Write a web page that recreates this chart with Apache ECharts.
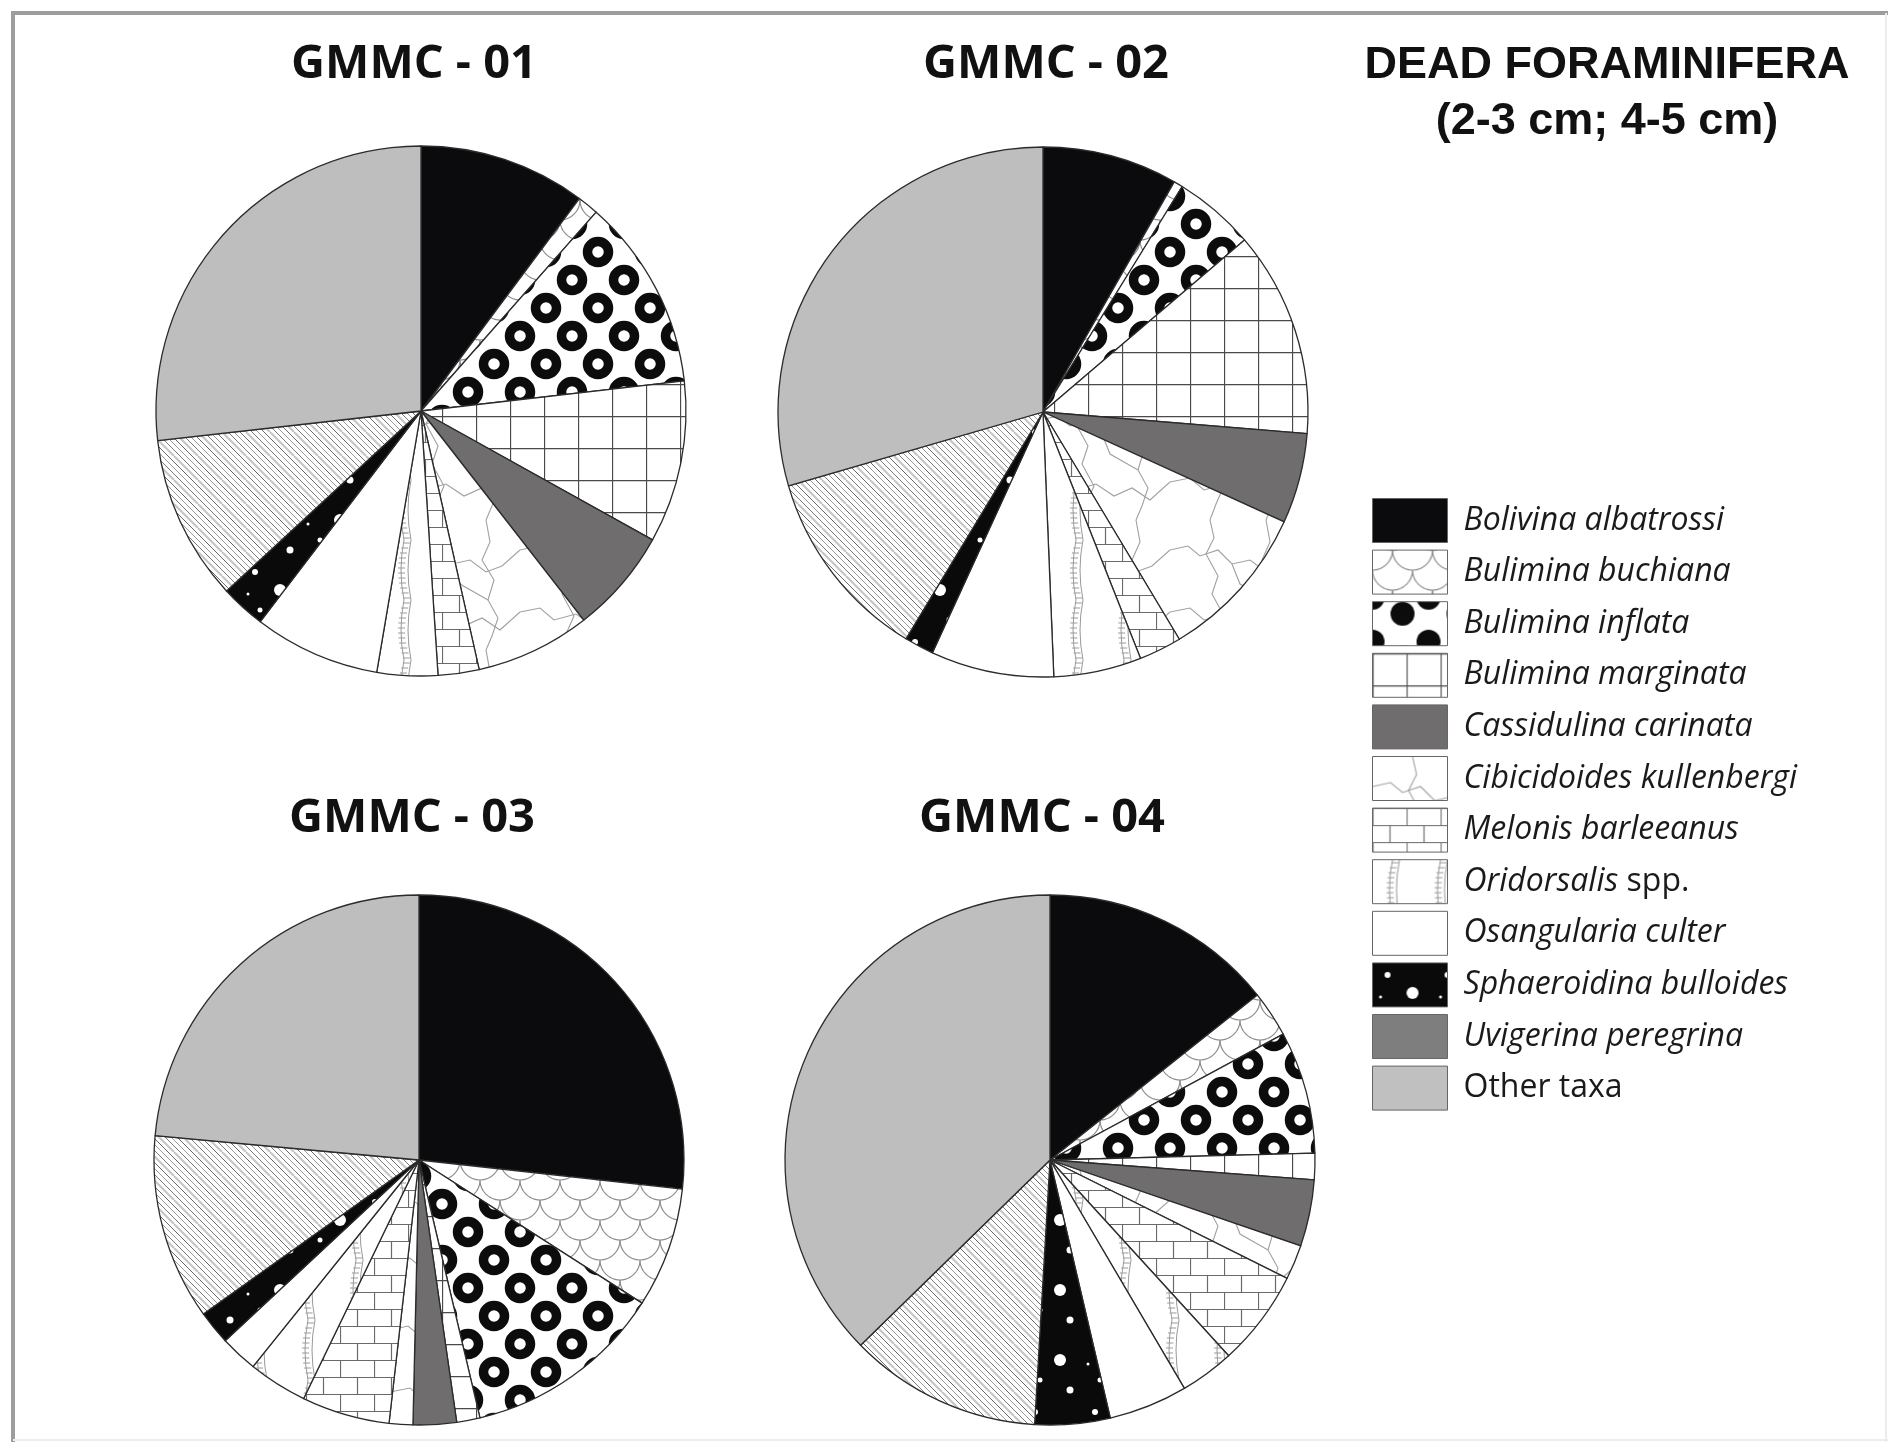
<!DOCTYPE html>
<html>
<head>
<meta charset="utf-8">
<title>Dead foraminifera</title>
<style>
html,body{margin:0;padding:0;background:#fff;}
#main{width:1888px;height:1442px;}
</style>
</head>
<body>
<div id="main"></div>
<script src="https://cdn.jsdelivr.net/npm/echarts@6/dist/echarts.min.js"></script>
<script type="text/javascript">

// taxa in the order they are drawn (clockwise from 12 o'clock)
var taxa = ['Bolivina albatrossi', 'Bulimina buchiana', 'Bulimina inflata', 'Bulimina marginata',
    'Cassidulina carinata', 'Cibicidoides kullenbergi', 'Melonis barleeanus', 'Oridorsalis spp.',
    'Osangularia culter', 'Sphaeroidina bulloides', 'Uvigerina peregrina', 'Other taxa'];

// relative abundance (%) per core
var gmmc01 = [10.2, 1.3, 11.7, 9.9, 6.4, 7.0, 2.5, 3.7, 7.7, 2.75, 10.1, 26.8];
var gmmc02 = [8.25, 0.55, 4.95, 12.55, 5.5, 9.6, 2.6, 5.35, 7.5, 1.8, 11.85, 29.5];
var gmmc03 = [26.75, 7.33, 12.22, 1.42, 2.64, 1.44, 5.36, 3.61, 2.28, 2.08, 11.33, 23.53];
var gmmc04 = [14.31, 2.81, 7.47, 1.61, 4.06, 2.11, 5.86, 3.31, 4.81, 4.58, 11.75, 37.33];

var cores = ['GMMC - 01', 'GMMC - 02', 'GMMC - 03', 'GMMC - 04'];
var coreData = [gmmc01, gmmc02, gmmc03, gmmc04];

// layout
var centers = [[421, 411], [1043, 412], [419, 1160], [1050, 1160]];
var titlePos = [[414, 41], [1046, 41], [412, 795], [1042, 795]];
var pieRadius = 265;

// ---------- fill patterns ----------
function tile(w, h, bg, draw) {
    var c = document.createElement('canvas');
    c.width = w; c.height = h;
    var ctx = c.getContext('2d');
    ctx.fillStyle = bg;
    ctx.fillRect(0, 0, w, h);
    if (draw) draw(ctx, w, h);
    return { image: c, repeat: 'repeat' };
}

var scallop = tile(40, 40, '#ffffff', function (ctx, w, h) {
    ctx.strokeStyle = '#8c8c8c'; ctx.lineWidth = 1.2;
    [[0, 0], [40, 0], [20, 20], [0, 40], [40, 40], [20, -20]].forEach(function (p) {
        ctx.beginPath(); ctx.arc(p[0], p[1], 20, 0, Math.PI); ctx.stroke();
    });
});

var rings = tile(52, 56, '#ffffff', function (ctx) {
    ctx.strokeStyle = '#0c0c0c'; ctx.lineWidth = 9.5;
    [[0, 0], [52, 0], [0, 56], [52, 56], [26, 28]].forEach(function (p) {
        ctx.beginPath(); ctx.arc(p[0], p[1], 10.5, 0, Math.PI * 2); ctx.stroke();
    });
});

var dots = tile(56, 44, '#ffffff', function (ctx) {
    ctx.fillStyle = '#0c0c0c';
    [[30, 12, 12], [0, 40, 12], [56, 40, 12], [0, -4, 12], [56, -4, 12], [30, 56, 12]].forEach(function (p) {
        ctx.beginPath(); ctx.arc(p[0], p[1], p[2], 0, Math.PI * 2); ctx.fill();
    });
});

var grid = tile(34, 32, '#ffffff', function (ctx, w, h) {
    ctx.strokeStyle = '#4a4a4a'; ctx.lineWidth = 1.3;
    ctx.beginPath();
    ctx.moveTo(0.5, 0); ctx.lineTo(0.5, h);
    ctx.moveTo(0, 0.5); ctx.lineTo(w, 0.5);
    ctx.stroke();
});

var bricks = tile(34, 34, '#ffffff', function (ctx) {
    ctx.strokeStyle = '#6a6a6a'; ctx.lineWidth = 1.2;
    ctx.beginPath();
    ctx.moveTo(0, 0.5); ctx.lineTo(34, 0.5);
    ctx.moveTo(0, 17.5); ctx.lineTo(34, 17.5);
    ctx.moveTo(0.5, 0); ctx.lineTo(0.5, 17);
    ctx.moveTo(17.5, 17); ctx.lineTo(17.5, 34);
    ctx.stroke();
});

var cracks = tile(130, 130, '#ffffff', function (ctx) {
    ctx.strokeStyle = '#a0a0a0'; ctx.lineWidth = 1.1;
    var lines = [
        [[0, 30], [18, 26], [30, 36], [48, 30], [62, 44], [80, 40], [96, 52], [112, 46], [130, 30]],
        [[40, 0], [44, 18], [36, 34], [48, 56], [42, 74], [54, 96], [46, 114], [40, 130]],
        [[0, 92], [20, 88], [34, 100], [56, 94], [74, 106], [92, 98], [110, 110], [130, 92]],
        [[96, 0], [100, 22], [92, 40], [104, 60], [98, 80], [108, 98], [102, 116], [96, 130]],
        [[62, 44], [70, 64], [84, 72], [98, 80]]
    ];
    lines.forEach(function (l) {
        ctx.beginPath();
        ctx.moveTo(l[0][0], l[0][1]);
        for (var i = 1; i < l.length; i++) ctx.lineTo(l[i][0], l[i][1]);
        ctx.stroke();
    });
});

var ladder = tile(48, 60, '#ffffff', function (ctx) {
    ctx.strokeStyle = '#9a9a9a'; ctx.lineWidth = 1;
    ctx.beginPath();
    ctx.moveTo(20, 0); ctx.quadraticCurveTo(14, 30, 20, 60);
    ctx.moveTo(27, 0); ctx.quadraticCurveTo(21, 30, 27, 60);
    for (var y = 3; y < 60; y += 5) {
        var dx = -6 * (1 - Math.pow((y - 30) / 30, 2));
        ctx.moveTo(20 + dx, y); ctx.lineTo(27 + dx, y);
    }
    ctx.stroke();
});

var speckled = tile(60, 70, '#0a0a0a', function (ctx) {
    ctx.fillStyle = '#ffffff';
    [[15, 12, 3], [40, 30, 6], [20, 50, 2.5], [50, 60, 3.5], [8, 34, 1.5]].forEach(function (p) {
        ctx.beginPath(); ctx.arc(p[0], p[1], p[2], 0, Math.PI * 2); ctx.fill();
    });
});

var hatch = tile(24, 24, '#ffffff', function (ctx) {
    var styles = [['#6a6a6a', 1], ['#c6c6c6', 2.2], ['#7a7a7a', 1], ['#9a9a9a', 1]];
    for (var k = -24; k <= 24; k += 6) {
        var s = styles[((k / 6) % 4 + 4) % 4];
        ctx.strokeStyle = s[0]; ctx.lineWidth = s[1];
        ctx.beginPath(); ctx.moveTo(k, 0); ctx.lineTo(k + 24, 24); ctx.stroke();
    }
});

var fills = ['#0b0b0d', scallop, rings, grid, '#6f6d6d', cracks, bricks, ladder, '#ffffff', speckled, hatch, '#bebebe'];
var legendFills = ['#0b0b0d', scallop, dots, grid, '#6f6d6d', cracks, bricks, ladder, '#ffffff', speckled, '#7e7e7e', '#c0c0c0'];

// ---------- chart ----------
var myChart = echarts.init(document.getElementById('main'));

var titles = cores.map(function (name, i) {
    return {
        text: name,
        left: titlePos[i][0],
        top: titlePos[i][1],
        textAlign: 'center',
        padding: 0,
        textStyle: { fontFamily: 'Open Sans', fontWeight: 'bold', fontSize: 47, color: '#111' }
    };
});
titles.push({
    text: 'DEAD FORAMINIFERA\n(2-3 cm; 4-5 cm)',
    left: 1607,
    top: 38,
    textAlign: 'center',
    padding: 0,
    textStyle: { fontFamily: 'Liberation Sans', fontWeight: 'bold', fontSize: 45, lineHeight: 56, color: '#111', align: 'center' }
});

var series = coreData.map(function (vals, i) {
    return {
        name: cores[i],
        type: 'pie',
        center: centers[i],
        radius: pieRadius,
        startAngle: 90,
        clockwise: true,
        label: { show: false },
        labelLine: { show: false },
        emphasis: { disabled: true },
        itemStyle: { borderColor: '#2b2b2b', borderWidth: 1.3 },
        data: taxa.map(function (t, j) {
            return { name: t, value: vals[j], itemStyle: { color: fills[j] } };
        })
    };
});

var option = {
    animation: false,
    backgroundColor: '#ffffff',
    title: titles,
    legend: {
        orient: 'vertical',
        left: 1372,
        top: 498,
        padding: 0,
        itemWidth: 75,
        itemHeight: 44,
        itemGap: 6.6,
        icon: 'rect',
        selectedMode: false,
        itemStyle: { borderColor: '#666', borderWidth: 1 },
        data: taxa.map(function (t, j) {
            return { name: t, itemStyle: { color: legendFills[j] } };
        }),
        formatter: function (name) {
            if (name === 'Oridorsalis spp.') return '{i|Oridorsalis}{n| spp.}';
            if (name === 'Other taxa') return '{n|Other taxa}';
            return '{i|' + name + '}';
        },
        textStyle: {
            padding: [0, 0, 0, 11],
            rich: {
                i: { fontFamily: 'Open Sans', fontStyle: 'italic', fontSize: 32, color: '#1a1a1a' },
                n: { fontFamily: 'Open Sans', fontStyle: 'normal', fontSize: 32, color: '#1a1a1a' }
            }
        }
    },
    graphic: [
        { type: 'line', shape: { x1: 13, y1: 11, x2: 13, y2: 1442 }, style: { stroke: '#9d9d9d', lineWidth: 4 } },
        { type: 'line', shape: { x1: 11, y1: 13, x2: 1888, y2: 13 }, style: { stroke: '#9d9d9d', lineWidth: 4 } },
        { type: 'line', shape: { x1: 1886, y1: 13, x2: 1886, y2: 1442 }, style: { stroke: '#ececec', lineWidth: 2 } },
        { type: 'line', shape: { x1: 13, y1: 1440, x2: 1888, y2: 1440 }, style: { stroke: '#ececec', lineWidth: 2 } }
    ],
    series: series
};

myChart.setOption(option);
</script>
</body>
</html>
